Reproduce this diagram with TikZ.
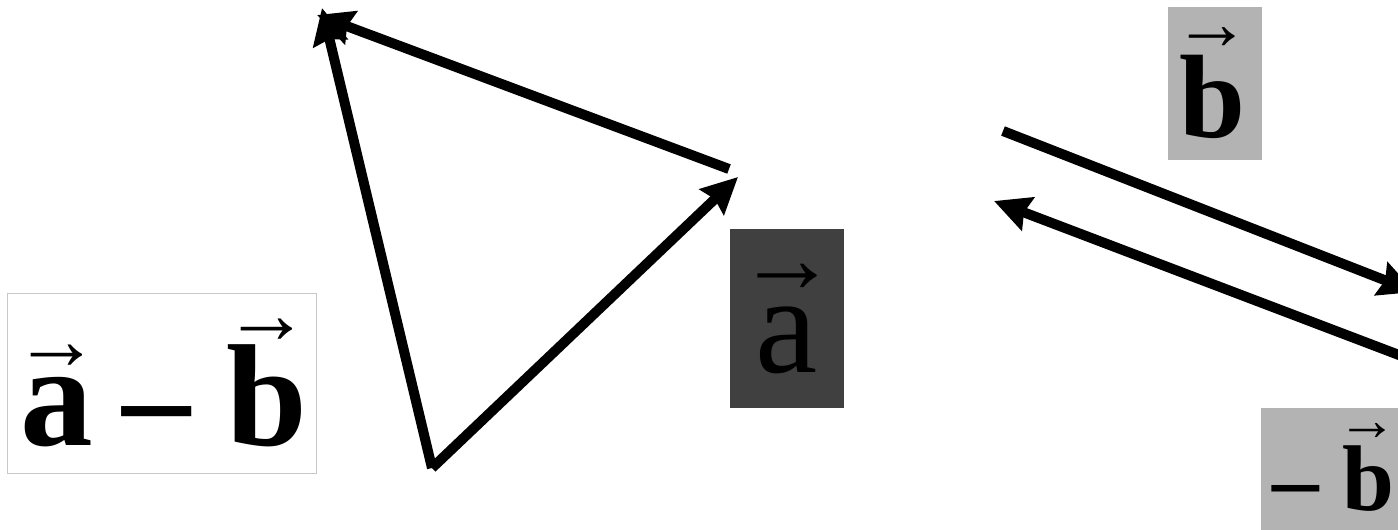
\documentclass[tikz,border=0pt]{standalone}
\usepackage{fontspec}
\setmainfont{Liberation Serif}
\usetikzlibrary{arrows.meta}
\definecolor{boxgray}{RGB}{179,179,179}
\definecolor{boxdark}{RGB}{64,64,64}
\definecolor{boxline}{RGB}{200,200,200}
\newcommand\vecover[3]{\ooalign{#1\cr\hidewidth\raisebox{#2}{\fontsize{#3}{#3}\selectfont →}\hidewidth\cr}}
\newcommand\narrowdash{\scalebox{0.94}[1]{–}}
\tikzset{
  vecarrow/.style={line width=7.5pt, -{Stealth[length=27pt,width=26pt,inset=3pt]}},
  lbl/.style={inner sep=0pt, outer sep=0pt},
  panel/.style={inner sep=0pt, outer sep=0pt},
}
\begin{document}
\begin{tikzpicture}[x=0.75pt,y=-0.75pt]
\useasboundingbox (0,0) rectangle (1398,529);
% boxes
\node[panel, fill=white, draw=boxline, line width=0.75pt, minimum width=309*0.75pt, minimum height=180*0.75pt] (diffbox) at (161.5,383) {};
\node[panel, fill=boxdark, minimum width=114*0.75pt, minimum height=179*0.75pt] (abox) at (787,318.5) {};
\node[panel, fill=boxgray, minimum width=94*0.75pt, minimum height=153*0.75pt] (bbox) at (1215,83.5) {};
\node[panel, fill=boxgray, minimum width=150*0.75pt, minimum height=130*0.75pt] (nbbox) at (1336,473) {};
% labels
\node[lbl, anchor=base west] (diff) at (20,445) {\fontsize{109pt}{109pt}\selectfont\bfseries \vecover{a}{57pt}{65pt}\hspace{22pt}\narrowdash\hspace{27pt}\vecover{b}{76pt}{65pt}};
\node[lbl, anchor=base] (alabel) at (787,372) {\fontsize{105pt}{105pt}\selectfont \vecover{a}{60pt}{75pt}};
\node[lbl, anchor=base] (blabel) at (1212,137) {\fontsize{89pt}{89pt}\selectfont\bfseries \vecover{b}{66pt}{58pt}};
\node[lbl, anchor=base west] (nblabel) at (1272,510) {\fontsize{70pt}{70pt}\selectfont\bfseries – \vecover{b}{52pt}{45pt}};
% triangle
\coordinate (P) at (432,468);
\coordinate (Q) at (738,177);
\coordinate (Qs) at (729,169);
\coordinate (T1) at (322,8);
\coordinate (T2) at (317,15);
\draw[vecarrow] (P) -- (Q);
\draw[vecarrow] (P) -- (T1);
\draw[vecarrow] (Qs) -- (T2);
% right pair
\coordinate (R1s) at (1003,131);
\coordinate (R1e) at (1415,292);
\coordinate (R2s) at (1420,363);
\coordinate (R2e) at (994,201);
\draw[vecarrow] (R1s) -- (R1e);
\draw[vecarrow] (R2s) -- (R2e);
\end{tikzpicture}
\end{document}
